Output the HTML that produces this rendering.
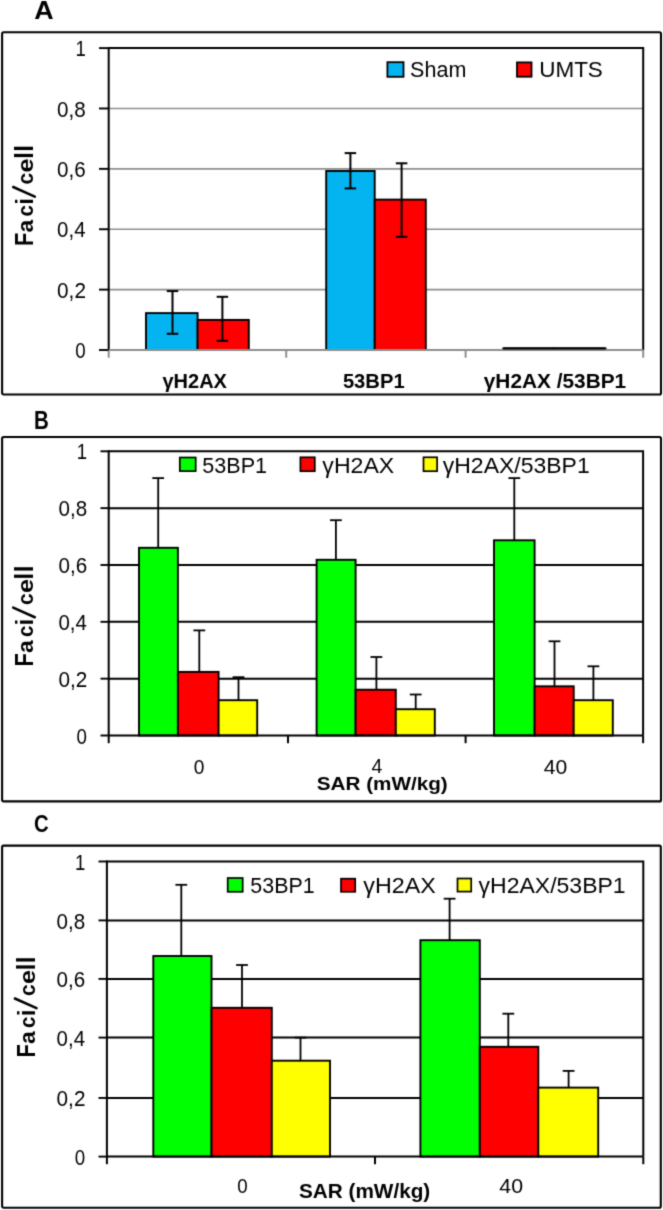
<!DOCTYPE html>
<html><head><meta charset="utf-8"><style>
html,body{margin:0;padding:0;background:#fff;}
svg{display:block;}
text{font-family:"Liberation Sans", sans-serif;}
</style></head><body>
<svg width="663" height="1210" viewBox="0 0 663 1210">
<defs><filter id="soft" x="0" y="0" width="663" height="1210" filterUnits="userSpaceOnUse" color-interpolation-filters="sRGB"><feConvolveMatrix order="3" kernelMatrix="0.0225 0.1050 0.0225 0.1050 0.4900 0.1050 0.0225 0.1050 0.0225" divisor="1" edgeMode="duplicate"/></filter></defs>
<g filter="url(#soft)">
<rect x="0" y="0" width="663" height="1210" fill="#fff"/>
<rect x="2.1" y="32.2" width="658.9" height="362.3" fill="none" stroke="#000" stroke-width="2.1" rx="1.5"/>
<line x1="108.7" y1="108.47999999999999" x2="643.2" y2="108.47999999999999" stroke="#8E8E8E" stroke-width="1.7"/>
<line x1="108.7" y1="168.85999999999999" x2="643.2" y2="168.85999999999999" stroke="#8E8E8E" stroke-width="1.7"/>
<line x1="108.7" y1="229.23999999999998" x2="643.2" y2="229.23999999999998" stroke="#8E8E8E" stroke-width="1.7"/>
<line x1="108.7" y1="289.62" x2="643.2" y2="289.62" stroke="#8E8E8E" stroke-width="1.7"/>
<line x1="108.7" y1="350.0" x2="108.7" y2="357.7" stroke="#8E8E8E" stroke-width="2"/>
<line x1="286.2" y1="350.0" x2="286.2" y2="357.7" stroke="#8E8E8E" stroke-width="2"/>
<line x1="465.6" y1="350.0" x2="465.6" y2="357.7" stroke="#8E8E8E" stroke-width="2"/>
<line x1="643.2" y1="350.0" x2="643.2" y2="357.7" stroke="#8E8E8E" stroke-width="2"/>
<path d="M108.7 48.1 H643.2 V350.0" fill="none" stroke="#000" stroke-width="2"/>
<line x1="108.7" y1="47.1" x2="108.7" y2="350.0" stroke="#000" stroke-width="2"/>
<line x1="99.0" y1="48.1" x2="108.7" y2="48.1" stroke="#000" stroke-width="1.9"/>
<line x1="99.0" y1="108.47999999999999" x2="108.7" y2="108.47999999999999" stroke="#000" stroke-width="1.9"/>
<line x1="99.0" y1="168.85999999999999" x2="108.7" y2="168.85999999999999" stroke="#000" stroke-width="1.9"/>
<line x1="99.0" y1="229.23999999999998" x2="108.7" y2="229.23999999999998" stroke="#000" stroke-width="1.9"/>
<line x1="99.0" y1="289.62" x2="108.7" y2="289.62" stroke="#000" stroke-width="1.9"/>
<line x1="99.0" y1="350.0" x2="108.7" y2="350.0" stroke="#000" stroke-width="1.9"/>
<rect x="146.0" y="313.1" width="51.599999999999994" height="36.89999999999998" fill="#04B4F0" stroke="#000" stroke-width="1.9" rx="0"/>
<rect x="197.6" y="319.9" width="51.20000000000002" height="30.100000000000023" fill="#FF0000" stroke="#000" stroke-width="1.9" rx="0"/>
<rect x="326.2" y="171.0" width="48.5" height="179.0" fill="#04B4F0" stroke="#000" stroke-width="1.9" rx="0"/>
<rect x="374.7" y="199.6" width="51.10000000000002" height="150.4" fill="#FF0000" stroke="#000" stroke-width="1.9" rx="0"/>
<rect x="503.2" y="348.6" width="51.19999999999999" height="1.3999999999999773" fill="#04B4F0" stroke="#000" stroke-width="1.9" rx="0"/>
<rect x="554.4" y="348.6" width="51.200000000000045" height="1.3999999999999773" fill="#FF0000" stroke="#000" stroke-width="1.9" rx="0"/>
<line x1="108.7" y1="350.0" x2="643.2" y2="350.0" stroke="#8E8E8E" stroke-width="2"/>
<line x1="503.2" y1="348.4" x2="605.6" y2="348.4" stroke="#000" stroke-width="2.2"/>
<line x1="172.5" y1="291.1" x2="172.5" y2="333.8" stroke="#000" stroke-width="2"/>
<line x1="166.75" y1="291.1" x2="178.25" y2="291.1" stroke="#000" stroke-width="2"/>
<line x1="166.75" y1="333.8" x2="178.25" y2="333.8" stroke="#000" stroke-width="2"/>
<line x1="222.4" y1="296.8" x2="222.4" y2="340.8" stroke="#000" stroke-width="2"/>
<line x1="216.65" y1="296.8" x2="228.15" y2="296.8" stroke="#000" stroke-width="2"/>
<line x1="216.65" y1="340.8" x2="228.15" y2="340.8" stroke="#000" stroke-width="2"/>
<line x1="350.4" y1="153.1" x2="350.4" y2="188.4" stroke="#000" stroke-width="2"/>
<line x1="344.65" y1="153.1" x2="356.15" y2="153.1" stroke="#000" stroke-width="2"/>
<line x1="344.65" y1="188.4" x2="356.15" y2="188.4" stroke="#000" stroke-width="2"/>
<line x1="401.6" y1="163.3" x2="401.6" y2="236.8" stroke="#000" stroke-width="2"/>
<line x1="395.85" y1="163.3" x2="407.35" y2="163.3" stroke="#000" stroke-width="2"/>
<line x1="395.85" y1="236.8" x2="407.35" y2="236.8" stroke="#000" stroke-width="2"/>
<rect x="387.4" y="62.2" width="16.1" height="14.6" fill="#04B4F0" stroke="#000" stroke-width="1.8" rx="0"/>
<rect x="517.0" y="62.4" width="14.5" height="14.3" fill="#FF0000" stroke="#000" stroke-width="1.8" rx="0"/>
<line x1="13.2" y1="187.0" x2="34.8" y2="196.6" stroke="#000" stroke-width="2.6" stroke-linecap="round"/>
<rect x="2.1" y="437.05" width="658.9" height="364.35" fill="none" stroke="#000" stroke-width="2.1" rx="1.5"/>
<line x1="108.7" y1="508.14" x2="643.1" y2="508.14" stroke="#000" stroke-width="2"/>
<line x1="108.7" y1="564.98" x2="643.1" y2="564.98" stroke="#000" stroke-width="2"/>
<line x1="108.7" y1="621.8199999999999" x2="643.1" y2="621.8199999999999" stroke="#000" stroke-width="2"/>
<line x1="108.7" y1="678.66" x2="643.1" y2="678.66" stroke="#000" stroke-width="2"/>
<line x1="108.7" y1="735.5" x2="108.7" y2="743.2" stroke="#000" stroke-width="2"/>
<line x1="288.0" y1="735.5" x2="288.0" y2="743.2" stroke="#000" stroke-width="2"/>
<line x1="465.6" y1="735.5" x2="465.6" y2="743.2" stroke="#000" stroke-width="2"/>
<line x1="643.1" y1="735.5" x2="643.1" y2="743.2" stroke="#000" stroke-width="2"/>
<path d="M108.7 451.3 H643.1 V735.5" fill="none" stroke="#000" stroke-width="2"/>
<line x1="108.7" y1="450.3" x2="108.7" y2="735.5" stroke="#000" stroke-width="2"/>
<line x1="100.5" y1="451.3" x2="108.7" y2="451.3" stroke="#000" stroke-width="1.9"/>
<line x1="100.5" y1="508.14" x2="108.7" y2="508.14" stroke="#000" stroke-width="1.9"/>
<line x1="100.5" y1="564.98" x2="108.7" y2="564.98" stroke="#000" stroke-width="1.9"/>
<line x1="100.5" y1="621.8199999999999" x2="108.7" y2="621.8199999999999" stroke="#000" stroke-width="1.9"/>
<line x1="100.5" y1="678.66" x2="108.7" y2="678.66" stroke="#000" stroke-width="1.9"/>
<line x1="100.5" y1="735.5" x2="108.7" y2="735.5" stroke="#000" stroke-width="1.9"/>
<rect x="139.0" y="547.8" width="38.900000000000006" height="187.70000000000005" fill="#00FF00" stroke="#000" stroke-width="1.9" rx="0"/>
<rect x="177.9" y="671.9" width="40.69999999999999" height="63.60000000000002" fill="#FF0000" stroke="#000" stroke-width="1.9" rx="0"/>
<rect x="218.6" y="700.2" width="38.599999999999994" height="35.299999999999955" fill="#FFFF00" stroke="#000" stroke-width="1.9" rx="0"/>
<rect x="316.6" y="559.8" width="39.0" height="175.70000000000005" fill="#00FF00" stroke="#000" stroke-width="1.9" rx="0"/>
<rect x="355.6" y="689.7" width="40.19999999999999" height="45.799999999999955" fill="#FF0000" stroke="#000" stroke-width="1.9" rx="0"/>
<rect x="395.8" y="709.2" width="39.0" height="26.299999999999955" fill="#FFFF00" stroke="#000" stroke-width="1.9" rx="0"/>
<rect x="494.0" y="540.3" width="40.60000000000002" height="195.20000000000005" fill="#00FF00" stroke="#000" stroke-width="1.9" rx="0"/>
<rect x="534.6" y="686.3" width="39.10000000000002" height="49.200000000000045" fill="#FF0000" stroke="#000" stroke-width="1.9" rx="0"/>
<rect x="573.7" y="700.2" width="39.09999999999991" height="35.299999999999955" fill="#FFFF00" stroke="#000" stroke-width="1.9" rx="0"/>
<line x1="158.2" y1="478.1" x2="158.2" y2="547.8" stroke="#000" stroke-width="1.8"/>
<line x1="152.29999999999998" y1="478.1" x2="164.1" y2="478.1" stroke="#000" stroke-width="1.8"/>
<line x1="199.3" y1="630.4" x2="199.3" y2="671.9" stroke="#000" stroke-width="1.8"/>
<line x1="193.4" y1="630.4" x2="205.20000000000002" y2="630.4" stroke="#000" stroke-width="1.8"/>
<line x1="238.5" y1="677.2" x2="238.5" y2="700.2" stroke="#000" stroke-width="1.8"/>
<line x1="232.6" y1="677.2" x2="244.4" y2="677.2" stroke="#000" stroke-width="1.8"/>
<line x1="335.9" y1="520.2" x2="335.9" y2="559.8" stroke="#000" stroke-width="1.8"/>
<line x1="330.0" y1="520.2" x2="341.79999999999995" y2="520.2" stroke="#000" stroke-width="1.8"/>
<line x1="376.4" y1="657.0" x2="376.4" y2="689.7" stroke="#000" stroke-width="1.8"/>
<line x1="370.5" y1="657.0" x2="382.29999999999995" y2="657.0" stroke="#000" stroke-width="1.8"/>
<line x1="415.7" y1="694.5" x2="415.7" y2="709.2" stroke="#000" stroke-width="1.8"/>
<line x1="409.8" y1="694.5" x2="421.59999999999997" y2="694.5" stroke="#000" stroke-width="1.8"/>
<line x1="514.3" y1="478.1" x2="514.3" y2="540.3" stroke="#000" stroke-width="1.8"/>
<line x1="508.4" y1="478.1" x2="520.1999999999999" y2="478.1" stroke="#000" stroke-width="1.8"/>
<line x1="554.5" y1="641.3" x2="554.5" y2="686.3" stroke="#000" stroke-width="1.8"/>
<line x1="548.6" y1="641.3" x2="560.4" y2="641.3" stroke="#000" stroke-width="1.8"/>
<line x1="593.4" y1="666.3" x2="593.4" y2="700.2" stroke="#000" stroke-width="1.8"/>
<line x1="587.5" y1="666.3" x2="599.3" y2="666.3" stroke="#000" stroke-width="1.8"/>
<line x1="108.7" y1="735.5" x2="643.1" y2="735.5" stroke="#000" stroke-width="2"/>
<rect x="179.8" y="457.5" width="15.9" height="13.6" fill="#00FF00" stroke="#000" stroke-width="1.7" rx="0"/>
<rect x="300.4" y="457.3" width="14.4" height="13.9" fill="#FF0000" stroke="#000" stroke-width="1.7" rx="0"/>
<rect x="423.5" y="457.3" width="13.6" height="13.9" fill="#FFFF00" stroke="#000" stroke-width="1.7" rx="0"/>
<line x1="13.2" y1="607.6" x2="34.8" y2="617.2" stroke="#000" stroke-width="2.6" stroke-linecap="round"/>
<rect x="2.1" y="845.6" width="658.7" height="362.2" fill="none" stroke="#000" stroke-width="2.1" rx="1.5"/>
<line x1="106.9" y1="920.4" x2="643.3" y2="920.4" stroke="#000" stroke-width="2"/>
<line x1="106.9" y1="978.9" x2="643.3" y2="978.9" stroke="#000" stroke-width="2"/>
<line x1="106.9" y1="1037.6" x2="643.3" y2="1037.6" stroke="#000" stroke-width="2"/>
<line x1="106.9" y1="1097.95" x2="643.3" y2="1097.95" stroke="#000" stroke-width="2"/>
<line x1="106.9" y1="1156.6" x2="106.9" y2="1164.2" stroke="#000" stroke-width="2"/>
<line x1="375.0" y1="1156.6" x2="375.0" y2="1164.2" stroke="#000" stroke-width="2"/>
<line x1="643.3" y1="1156.6" x2="643.3" y2="1164.2" stroke="#000" stroke-width="2"/>
<path d="M106.9 861.5 H643.3 V1156.6" fill="none" stroke="#000" stroke-width="2"/>
<line x1="106.9" y1="860.5" x2="106.9" y2="1156.6" stroke="#000" stroke-width="2"/>
<line x1="98.5" y1="861.5" x2="106.9" y2="861.5" stroke="#000" stroke-width="1.9"/>
<line x1="98.5" y1="920.4" x2="106.9" y2="920.4" stroke="#000" stroke-width="1.9"/>
<line x1="98.5" y1="978.9" x2="106.9" y2="978.9" stroke="#000" stroke-width="1.9"/>
<line x1="98.5" y1="1037.6" x2="106.9" y2="1037.6" stroke="#000" stroke-width="1.9"/>
<line x1="98.5" y1="1097.95" x2="106.9" y2="1097.95" stroke="#000" stroke-width="1.9"/>
<line x1="98.5" y1="1156.6" x2="106.9" y2="1156.6" stroke="#000" stroke-width="1.9"/>
<rect x="153.3" y="956.0" width="58.19999999999999" height="200.5999999999999" fill="#00FF00" stroke="#000" stroke-width="1.9" rx="0"/>
<rect x="211.5" y="1007.8" width="60.30000000000001" height="148.79999999999995" fill="#FF0000" stroke="#000" stroke-width="1.9" rx="0"/>
<rect x="271.8" y="1060.7" width="58.19999999999999" height="95.89999999999986" fill="#FFFF00" stroke="#000" stroke-width="1.9" rx="0"/>
<rect x="420.4" y="940.2" width="59.400000000000034" height="216.39999999999986" fill="#00FF00" stroke="#000" stroke-width="1.9" rx="0"/>
<rect x="479.8" y="1046.8" width="58.49999999999994" height="109.79999999999995" fill="#FF0000" stroke="#000" stroke-width="1.9" rx="0"/>
<rect x="538.3" y="1087.6" width="59.90000000000009" height="69.0" fill="#FFFF00" stroke="#000" stroke-width="1.9" rx="0"/>
<line x1="181.3" y1="884.8" x2="181.3" y2="956.0" stroke="#000" stroke-width="1.8"/>
<line x1="175.4" y1="884.8" x2="187.20000000000002" y2="884.8" stroke="#000" stroke-width="1.8"/>
<line x1="242.0" y1="965.0" x2="242.0" y2="1007.8" stroke="#000" stroke-width="1.8"/>
<line x1="236.1" y1="965.0" x2="247.9" y2="965.0" stroke="#000" stroke-width="1.8"/>
<line x1="300.5" y1="1037.6" x2="300.5" y2="1060.7" stroke="#000" stroke-width="1.8"/>
<line x1="294.6" y1="1037.6" x2="306.4" y2="1037.6" stroke="#000" stroke-width="1.8"/>
<line x1="449.6" y1="898.7" x2="449.6" y2="940.2" stroke="#000" stroke-width="1.8"/>
<line x1="443.70000000000005" y1="898.7" x2="455.5" y2="898.7" stroke="#000" stroke-width="1.8"/>
<line x1="508.3" y1="1013.7" x2="508.3" y2="1046.8" stroke="#000" stroke-width="1.8"/>
<line x1="502.40000000000003" y1="1013.7" x2="514.2" y2="1013.7" stroke="#000" stroke-width="1.8"/>
<line x1="568.6" y1="1070.9" x2="568.6" y2="1087.6" stroke="#000" stroke-width="1.8"/>
<line x1="562.7" y1="1070.9" x2="574.5" y2="1070.9" stroke="#000" stroke-width="1.8"/>
<line x1="106.9" y1="1156.6" x2="643.3" y2="1156.6" stroke="#000" stroke-width="2"/>
<rect x="227.7" y="878.0" width="15.0" height="13.8" fill="#00FF00" stroke="#000" stroke-width="1.7" rx="0"/>
<rect x="341.0" y="878.7" width="14.2" height="13.1" fill="#FF0000" stroke="#000" stroke-width="1.7" rx="0"/>
<rect x="457.5" y="878.5" width="13.7" height="13.1" fill="#FFFF00" stroke="#000" stroke-width="1.7" rx="0"/>
<line x1="14.899999999999999" y1="998.5" x2="36.5" y2="1008.1" stroke="#000" stroke-width="2.6" stroke-linecap="round"/>
<g style="filter:grayscale(1)">
<text transform="translate(410.12 77.10) scale(0.2152 0.2275)" font-weight="normal" font-size="100" fill="#000">Sham</text>
<text transform="translate(539.20 77.10) scale(0.2247 0.2275)" font-weight="normal" font-size="100" fill="#000">UMTS</text>
<text transform="translate(75.41 56.20) scale(0.1860 0.2116)" font-weight="normal" font-size="100" fill="#000">1</text>
<text transform="translate(57.08 116.58) scale(0.2061 0.2116)" font-weight="normal" font-size="100" fill="#000">0,8</text>
<text transform="translate(57.08 176.96) scale(0.2061 0.2116)" font-weight="normal" font-size="100" fill="#000">0,6</text>
<text transform="translate(57.08 237.34) scale(0.2045 0.2116)" font-weight="normal" font-size="100" fill="#000">0,4</text>
<text transform="translate(57.07 297.72) scale(0.2077 0.2116)" font-weight="normal" font-size="100" fill="#000">0,2</text>
<text transform="translate(75.15 358.10) scale(0.1875 0.2116)" font-weight="normal" font-size="100" fill="#000">0</text>
<text transform="translate(162.40 388.10) scale(0.2003 0.1986)" font-weight="bold" font-size="100" fill="#000">γH2AX</text>
<text transform="translate(342.89 388.40) scale(0.2020 0.2029)" font-weight="bold" font-size="100" fill="#000">53BP1</text>
<text transform="translate(483.79 388.40) scale(0.2084 0.1971)" font-weight="bold" font-size="100" fill="#000">γH2AX /53BP1</text>
<text transform="translate(32.90 151.70) rotate(-90) scale(0.2429 0.2623)" font-weight="bold" font-size="100" fill="#000">l</text>
<text transform="translate(32.90 158.85) rotate(-90) scale(0.2357 0.2623)" font-weight="bold" font-size="100" fill="#000">l</text>
<text transform="translate(32.83 172.41) rotate(-90) scale(0.2521 0.2191)" font-weight="bold" font-size="100" fill="#000">e</text>
<text transform="translate(32.83 184.43) rotate(-90) scale(0.2082 0.2191)" font-weight="bold" font-size="100" fill="#000">c</text>
<text transform="translate(33.05 204.85) rotate(-90) scale(0.2357 0.2390)" font-weight="bold" font-size="100" fill="#000">i</text>
<text transform="translate(32.83 216.52) rotate(-90) scale(0.2041 0.2191)" font-weight="bold" font-size="100" fill="#000">c</text>
<text transform="translate(32.83 232.38) rotate(-90) scale(0.2283 0.2191)" font-weight="bold" font-size="100" fill="#000">a</text>
<text transform="translate(32.90 245.93) rotate(-90) scale(0.2180 0.2536)" font-weight="bold" font-size="100" fill="#000">F</text>
<text transform="translate(34.20 18.60) scale(0.2682 0.2493)" font-weight="bold" font-size="100" fill="#000">A</text>
<text transform="translate(202.34 472.90) scale(0.2158 0.2246)" font-weight="normal" font-size="100" fill="#000">53BP1</text>
<text transform="translate(322.37 472.90) scale(0.2312 0.2217)" font-weight="normal" font-size="100" fill="#000">γH2AX</text>
<text transform="translate(442.77 472.90) scale(0.2300 0.2217)" font-weight="normal" font-size="100" fill="#000">γH2AX/53BP1</text>
<text transform="translate(76.81 459.40) scale(0.1860 0.2116)" font-weight="normal" font-size="100" fill="#000">1</text>
<text transform="translate(58.48 516.24) scale(0.2061 0.2116)" font-weight="normal" font-size="100" fill="#000">0,8</text>
<text transform="translate(58.48 573.08) scale(0.2061 0.2116)" font-weight="normal" font-size="100" fill="#000">0,6</text>
<text transform="translate(58.48 629.92) scale(0.2045 0.2116)" font-weight="normal" font-size="100" fill="#000">0,4</text>
<text transform="translate(58.47 686.76) scale(0.2077 0.2116)" font-weight="normal" font-size="100" fill="#000">0,2</text>
<text transform="translate(76.55 743.60) scale(0.1875 0.2116)" font-weight="normal" font-size="100" fill="#000">0</text>
<text transform="translate(193.83 773.50) scale(0.1917 0.2043)" font-weight="normal" font-size="100" fill="#000">0</text>
<text transform="translate(371.61 773.40) scale(0.1961 0.1971)" font-weight="normal" font-size="100" fill="#000">4</text>
<text transform="translate(543.78 773.50) scale(0.2114 0.2014)" font-weight="normal" font-size="100" fill="#000">40</text>
<text transform="translate(316.68 789.60) scale(0.2070 0.1928)" font-weight="bold" font-size="100" fill="#000">SAR (mW/kg)</text>
<text transform="translate(32.90 572.30) rotate(-90) scale(0.2429 0.2623)" font-weight="bold" font-size="100" fill="#000">l</text>
<text transform="translate(32.90 579.45) rotate(-90) scale(0.2357 0.2623)" font-weight="bold" font-size="100" fill="#000">l</text>
<text transform="translate(32.83 593.01) rotate(-90) scale(0.2521 0.2191)" font-weight="bold" font-size="100" fill="#000">e</text>
<text transform="translate(32.83 605.03) rotate(-90) scale(0.2082 0.2191)" font-weight="bold" font-size="100" fill="#000">c</text>
<text transform="translate(33.05 625.45) rotate(-90) scale(0.2357 0.2390)" font-weight="bold" font-size="100" fill="#000">i</text>
<text transform="translate(32.83 637.12) rotate(-90) scale(0.2041 0.2191)" font-weight="bold" font-size="100" fill="#000">c</text>
<text transform="translate(32.83 652.98) rotate(-90) scale(0.2283 0.2191)" font-weight="bold" font-size="100" fill="#000">a</text>
<text transform="translate(32.90 666.53) rotate(-90) scale(0.2180 0.2536)" font-weight="bold" font-size="100" fill="#000">F</text>
<text transform="translate(33.97 428.90) scale(0.2049 0.2536)" font-weight="bold" font-size="100" fill="#000">B</text>
<text transform="translate(250.34 892.60) scale(0.2141 0.2261)" font-weight="normal" font-size="100" fill="#000">53BP1</text>
<text transform="translate(363.27 892.60) scale(0.2328 0.2232)" font-weight="normal" font-size="100" fill="#000">γH2AX</text>
<text transform="translate(478.57 892.60) scale(0.2303 0.2232)" font-weight="normal" font-size="100" fill="#000">γH2AX/53BP1</text>
<text transform="translate(74.91 869.60) scale(0.1860 0.2116)" font-weight="normal" font-size="100" fill="#000">1</text>
<text transform="translate(56.58 928.50) scale(0.2061 0.2116)" font-weight="normal" font-size="100" fill="#000">0,8</text>
<text transform="translate(56.58 987.00) scale(0.2061 0.2116)" font-weight="normal" font-size="100" fill="#000">0,6</text>
<text transform="translate(56.58 1045.70) scale(0.2045 0.2116)" font-weight="normal" font-size="100" fill="#000">0,4</text>
<text transform="translate(56.57 1106.05) scale(0.2077 0.2116)" font-weight="normal" font-size="100" fill="#000">0,2</text>
<text transform="translate(74.65 1164.70) scale(0.1875 0.2116)" font-weight="normal" font-size="100" fill="#000">0</text>
<text transform="translate(237.25 1193.40) scale(0.1875 0.2000)" font-weight="normal" font-size="100" fill="#000">0</text>
<text transform="translate(499.37 1193.00) scale(0.2133 0.2000)" font-weight="normal" font-size="100" fill="#000">40</text>
<text transform="translate(298.98 1198.10) scale(0.2075 0.1971)" font-weight="bold" font-size="100" fill="#000">SAR (mW/kg)</text>
<text transform="translate(34.60 963.20) rotate(-90) scale(0.2429 0.2623)" font-weight="bold" font-size="100" fill="#000">l</text>
<text transform="translate(34.60 970.35) rotate(-90) scale(0.2357 0.2623)" font-weight="bold" font-size="100" fill="#000">l</text>
<text transform="translate(34.53 983.91) rotate(-90) scale(0.2521 0.2191)" font-weight="bold" font-size="100" fill="#000">e</text>
<text transform="translate(34.53 995.93) rotate(-90) scale(0.2082 0.2191)" font-weight="bold" font-size="100" fill="#000">c</text>
<text transform="translate(34.75 1016.35) rotate(-90) scale(0.2357 0.2390)" font-weight="bold" font-size="100" fill="#000">i</text>
<text transform="translate(34.53 1028.02) rotate(-90) scale(0.2041 0.2191)" font-weight="bold" font-size="100" fill="#000">c</text>
<text transform="translate(34.53 1043.88) rotate(-90) scale(0.2283 0.2191)" font-weight="bold" font-size="100" fill="#000">a</text>
<text transform="translate(34.60 1057.43) rotate(-90) scale(0.2180 0.2536)" font-weight="bold" font-size="100" fill="#000">F</text>
<text transform="translate(33.99 831.60) scale(0.2031 0.2464)" font-weight="bold" font-size="100" fill="#000">C</text>
</g>
</g>
</svg>
</body></html>
